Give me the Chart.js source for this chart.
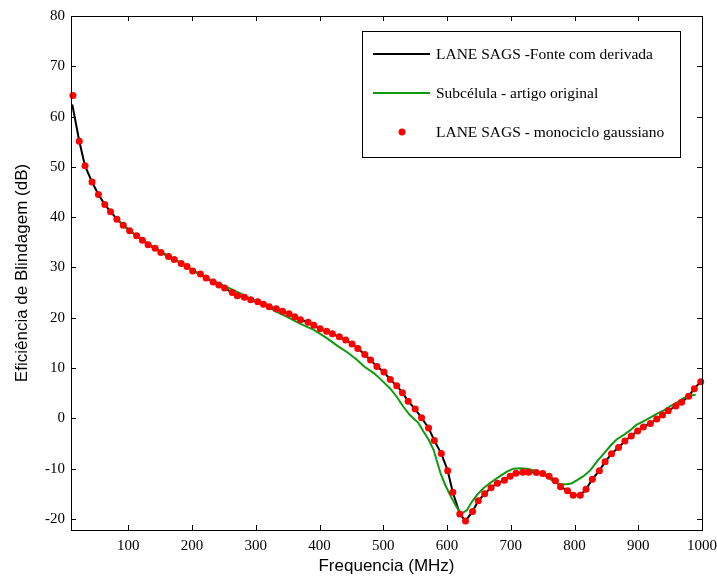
<!DOCTYPE html>
<html>
<head>
<meta charset="utf-8">
<script src="https://cdn.jsdelivr.net/npm/chart.js@4.4.1/dist/chart.umd.min.js"></script>
<style>
  html, body { margin: 0; padding: 0; background: #fff; }
  #wrap { width: 717px; height: 579px; }
</style>
</head>
<body>
<div id="wrap"><canvas id="se" width="717" height="579"></canvas></div>
<script>
// eixos
const xTicks = [100, 200, 300, 400, 500, 600, 700, 800, 900, 1000];
const yTicks = [-20, -10, 0, 10, 20, 30, 40, 50, 60, 70, 80];

// LANE SAGS - monociclo gaussiano (pontos vermelhos)
const redFreq = [13, 23, 32, 43, 53, 63, 72, 82, 92, 102,
  113, 122, 131, 142, 151, 163, 172, 183, 192, 201,
  213, 222, 233, 242, 251, 263, 271, 282, 292, 303,
  312, 321, 332, 342, 352, 361, 370, 382, 391, 401,
  411, 420, 431, 441, 451, 460, 471, 480, 490, 501,
  511, 521, 530, 539, 550, 560, 571, 580, 591, 601,
  609, 620, 629, 640, 649, 659, 669, 679, 690, 699,
  708, 719, 728, 740, 750, 760, 770, 778, 789, 798,
  809, 818, 828, 839, 848, 858, 869, 879, 889, 899,
  908, 919, 929, 938, 947, 959, 968, 979, 988, 998];
const redDb = [64.2, 55.1, 50.2, 47.0, 44.5, 42.5, 41.1, 39.6, 38.4, 37.3,
  36.3, 35.4, 34.5, 33.8, 33.0, 32.2, 31.6, 30.8, 30.2, 29.3,
  28.7, 27.9, 27.1, 26.5, 25.9, 25.0, 24.4, 24.1, 23.6, 23.2,
  22.7, 22.2, 21.8, 21.3, 20.8, 20.2, 19.6, 19.1, 18.5, 17.8,
  17.3, 16.8, 16.2, 15.6, 14.8, 13.9, 12.7, 11.6, 10.3, 9.2,
  7.7, 6.5, 5.1, 3.4, 1.85, 0.1, -1.9, -4.4, -7.0, -10.4,
  -14.7, -19.0, -20.4, -18.5, -16.4, -15.0, -13.8, -12.9, -12.3, -11.5,
  -10.9, -10.7, -10.7, -10.75, -10.95, -11.5, -12.4, -13.6, -14.4, -15.3,
  -15.3, -14.1, -12.1, -10.4, -8.65, -7.05, -5.8, -4.5, -3.5, -2.5,
  -1.7, -1.0, -0.15, 0.65, 1.5, 2.45, 3.2, 4.4, 5.9, 7.3];

// LANE SAGS - Fonte com derivada (linha preta): passa pelos pontos, exceto no início
const blackFreq = [12].concat(redFreq.slice(1));
const blackDb = [62.4].concat(redDb.slice(1));

// Subcélula - artigo original (linha verde)
const greenFreq = [85, 100, 120, 140, 160, 180, 200, 220, 240, 260,
  275, 290, 305, 320, 330, 349, 370, 391, 412, 428,
  444, 459, 470, 485, 494, 511, 521, 532, 542, 555,
  563, 571, 579, 584, 590, 597, 605, 613, 619, 623,
  631, 639, 647, 657, 668, 683, 694, 704, 715, 725,
  736, 746, 757, 767, 778, 788, 796, 804, 814, 825,
  835, 846, 856, 866, 876, 887, 897, 908, 918, 929,
  940, 950, 961, 971, 980, 990];
const greenDb = [39.3, 37.6, 35.7, 34.0, 32.5, 31.1, 29.5, 28.1, 26.9, 25.8,
  24.9, 23.9, 23.0, 22.2, 21.3, 20.2, 18.8, 17.6, 15.9, 14.4,
  13.1, 11.6, 10.3, 9.0, 8.0, 5.9, 4.3, 2.2, 0.6, -0.9,
  -2.6, -4.2, -6.3, -8.5, -11.0, -13.2, -15.3, -17.2, -18.5, -18.9,
  -18.3, -16.6, -15.2, -13.9, -12.8, -11.5, -10.6, -10.0, -9.9, -10.0,
  -10.3, -10.8, -11.6, -12.6, -13.1, -13.1, -12.9, -12.3, -11.5, -10.3,
  -8.6, -7.0, -5.5, -4.2, -3.4, -2.4, -1.3, -0.6, 0.1, 0.9,
  1.6, 2.4, 3.2, 4.0, 4.5, 4.7];

const pts = (xs, ys) => xs.map((x, i) => ({ x: x, y: ys[i] }));

// moldura com ticks para dentro (estilo MATLAB)
const frame = {
  id: "frame",
  afterDatasetsDraw(chart) {
    const { ctx, chartArea: a, scales: { x, y } } = chart;
    ctx.save();
    ctx.strokeStyle = "#000";
    ctx.lineWidth = 1;
    ctx.strokeRect(Math.round(a.left) + 0.5, Math.round(a.top) + 0.5,
      Math.round(a.right - a.left), Math.round(a.bottom - a.top));
    ctx.beginPath();
    xTicks.forEach(v => {
      const px = Math.round(x.getPixelForValue(v)) + 0.5;
      ctx.moveTo(px, a.bottom); ctx.lineTo(px, a.bottom - 5);
      ctx.moveTo(px, a.top); ctx.lineTo(px, a.top + 5);
    });
    yTicks.forEach(v => {
      const py = Math.round(y.getPixelForValue(v)) + 0.5;
      ctx.moveTo(a.left, py); ctx.lineTo(a.left + 5, py);
      ctx.moveTo(a.right, py); ctx.lineTo(a.right - 5, py);
    });
    ctx.stroke();
    ctx.restore();
  }
};

// legenda desenhada dentro do gráfico
const boxLegend = {
  id: "boxLegend",
  afterDraw(chart) {
    const ctx = chart.ctx;
    const ds = chart.data.datasets;
    const bx = 362, by = 31, bw = 318, bh = 126;
    ctx.save();
    ctx.fillStyle = "#fff";
    ctx.fillRect(bx, by, bw, bh);
    ctx.strokeStyle = "#000";
    ctx.lineWidth = 1;
    ctx.strokeRect(bx + 0.5, by + 0.5, bw, bh);
    ctx.font = "15.5px 'Liberation Serif'";
    ctx.textBaseline = "middle";
    const rows = [54, 93, 132];
    ds.forEach((d, i) => {
      const ry = rows[i];
      if (d.showLine === false) {
        ctx.fillStyle = d.pointBackgroundColor;
        ctx.beginPath();
        ctx.arc(402, ry, d.pointRadius, 0, Math.PI * 2);
        ctx.fill();
      } else {
        ctx.strokeStyle = d.borderColor;
        ctx.lineWidth = d.borderWidth;
        ctx.beginPath();
        ctx.moveTo(373, ry); ctx.lineTo(430, ry);
        ctx.stroke();
      }
      ctx.fillStyle = "#000";
      ctx.fillText(d.label, 436, ry + 1);
    });
    ctx.restore();
  }
};

new Chart(document.getElementById("se").getContext("2d"), {
  type: "line",
  data: {
    datasets: [
      {
        label: "LANE SAGS -Fonte com derivada",
        data: pts(blackFreq, blackDb),
        borderColor: "#000",
        borderWidth: 2,
        pointRadius: 0,
        tension: 0,
        order: 3
      },
      {
        label: "Subcélula - artigo original",
        data: pts(greenFreq, greenDb),
        borderColor: "#0f990f",
        borderWidth: 2,
        pointRadius: 0,
        tension: 0,
        order: 2
      },
      {
        label: "LANE SAGS - monociclo gaussiano",
        data: pts(redFreq, redDb),
        showLine: false,
        pointRadius: 3.5,
        pointBackgroundColor: "#ff0000",
        pointBorderWidth: 0,
        borderColor: "#ff0000",
        clip: false,
        order: 1
      }
    ]
  },
  options: {
    responsive: false,
    animation: false,
    layout: { padding: { top: 16, right: 15, left: 0, bottom: 0 } },
    plugins: {
      legend: { display: false },
      tooltip: { enabled: false }
    },
    scales: {
      x: {
        type: "linear",
        min: 10,
        max: 1000,
        grid: { display: false, drawTicks: false },
        border: { display: false },
        afterBuildTicks: s => { s.ticks = xTicks.map(v => ({ value: v })); },
        afterFit: s => { s.height = 49; s.paddingLeft = 0; s.paddingRight = 0; },
        ticks: {
          padding: 7,
          color: "#000",
          maxRotation: 0,
          callback: v => String(v),
          font: { family: "'Liberation Serif'", size: 15 }
        },
        title: {
          display: true,
          text: "Frequencia (MHz)",
          color: "#000",
          padding: { bottom: 2 },
          font: { family: "'Liberation Sans'", size: 17 }
        }
      },
      y: {
        min: -22.2,
        max: 80,
        grid: { display: false, drawTicks: false },
        border: { display: false },
        afterBuildTicks: s => { s.ticks = yTicks.map(v => ({ value: v })); },
        afterFit: s => { s.width = 71; s.paddingTop = 0; s.paddingBottom = 0; },
        ticks: {
          padding: 6,
          color: "#000",
          callback: v => String(v),
          font: { family: "'Liberation Serif'", size: 15 }
        },
        title: {
          display: true,
          text: "Eficiência de Blindagem (dB)",
          color: "#000",
          padding: { top: 12 },
          font: { family: "'Liberation Sans'", size: 17 }
        }
      }
    }
  },
  plugins: [frame, boxLegend]
});
</script>
</body>
</html>
